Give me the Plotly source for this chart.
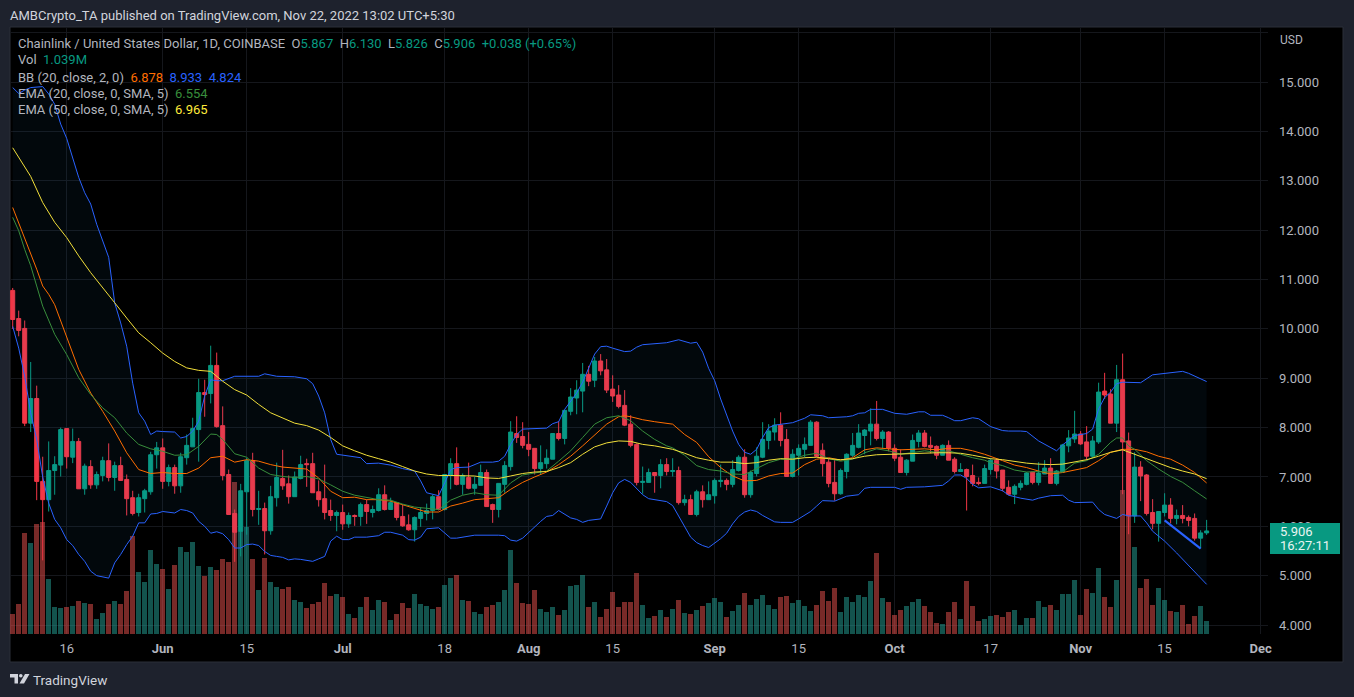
import pandas as pd
import plotly.graph_objects as go

W, H = 1354, 697
LEFT, RIGHT, TOP, BOTTOM = 10, 1268, 28, 634

dates = pd.date_range("2022-05-07", periods=200, freq="D")

opens = [
    10.78, 10.21, 10.01, 8.09, 8.59, 6.91, 6.54, 7.13, 7.24, 7.98,
    7.40, 7.72, 6.76, 7.21, 6.84, 7.03, 7.33, 6.99, 7.23, 6.95,
    6.58, 6.28, 6.56, 6.70, 7.45, 7.59, 6.91, 7.19, 6.82, 7.39,
    7.61, 7.96, 8.71, 8.69, 9.26, 8.04, 7.05, 6.26, 5.90, 6.70,
    7.33, 6.34, 6.36, 5.91, 6.58, 6.97, 6.86, 6.60, 6.97, 7.27,
    7.27, 6.70, 6.56, 6.32, 6.22, 6.28, 6.05, 6.22, 6.20, 6.44,
    6.28, 6.32, 6.64, 6.34, 6.48, 6.20, 6.03, 5.93, 6.16, 6.26,
    6.32, 6.60, 6.34, 7.03, 7.27, 6.85, 6.99, 6.77, 6.83, 7.09,
    6.44, 6.34, 6.85, 7.21, 7.88, 7.82, 7.66, 7.58, 7.17, 7.27,
    7.36, 7.88, 7.78, 8.33, 8.60, 8.74, 9.08, 8.96, 9.35, 9.17,
    8.78, 8.66, 8.45, 8.07, 7.66, 6.89, 6.89, 7.09, 7.03, 7.25,
    7.11, 7.13, 6.48, 6.54, 6.24, 6.70, 6.54, 6.62, 6.91, 6.93,
    6.85, 7.13, 7.40, 6.64, 7.07, 7.40, 7.74, 7.91, 8.05, 7.76,
    7.01, 7.44, 7.56, 7.64, 8.11, 7.54, 7.30, 6.89, 6.66, 7.11,
    7.44, 7.60, 7.84, 7.93, 8.07, 7.78, 7.91, 7.58, 7.40, 7.09,
    7.32, 7.72, 7.89, 7.64, 7.62, 7.44, 7.64, 7.36, 7.11, 7.15,
    7.03, 6.89, 6.87, 7.15, 7.34, 7.14, 6.79, 6.65, 6.79, 6.85,
    7.10, 6.89, 7.06, 7.18, 6.87, 7.10, 7.63, 7.77, 7.87, 7.71,
    7.42, 7.71, 8.74, 8.68, 8.09, 8.97, 7.73, 6.21, 7.20, 7.04,
    6.28, 6.06, 6.28, 6.43, 6.16, 6.22, 6.18, 6.16, 5.76, 5.867,
]
closes = [
    10.19, 9.97, 8.09, 8.59, 6.91, 6.54, 7.13, 7.25, 7.96, 7.41,
    7.72, 6.76, 7.22, 6.84, 7.05, 7.33, 6.99, 7.23, 6.93, 6.56,
    6.26, 6.58, 6.72, 7.45, 7.59, 6.91, 7.19, 6.82, 7.41, 7.64,
    7.98, 8.71, 8.67, 9.26, 8.02, 7.03, 6.24, 5.88, 6.72, 7.33,
    6.34, 6.36, 5.91, 6.60, 6.99, 6.82, 6.60, 7.00, 7.25, 7.25,
    6.68, 6.54, 6.28, 6.22, 6.28, 6.05, 6.22, 6.20, 6.44, 6.30,
    6.34, 6.64, 6.34, 6.48, 6.18, 6.01, 5.93, 6.18, 6.28, 6.32,
    6.60, 6.34, 7.05, 7.27, 6.85, 7.03, 6.77, 6.85, 7.09, 6.40,
    6.34, 6.87, 7.23, 7.91, 7.80, 7.64, 7.56, 7.17, 7.29, 7.38,
    7.88, 7.78, 8.35, 8.62, 8.76, 9.08, 8.94, 9.35, 9.15, 8.76,
    8.64, 8.43, 8.05, 7.64, 6.89, 6.91, 7.09, 7.03, 7.25, 7.11,
    7.13, 6.48, 6.54, 6.24, 6.70, 6.54, 6.64, 6.93, 6.93, 6.85,
    7.15, 7.40, 6.64, 7.09, 7.42, 7.76, 7.93, 8.05, 7.74, 7.01,
    7.46, 7.58, 7.66, 8.11, 7.42, 7.27, 6.87, 6.66, 7.13, 7.46,
    7.64, 7.89, 7.95, 8.07, 7.78, 7.91, 7.58, 7.38, 7.09, 7.34,
    7.74, 7.89, 7.62, 7.60, 7.44, 7.64, 7.34, 7.11, 7.15, 7.01,
    6.87, 6.87, 7.17, 7.34, 7.12, 6.77, 6.65, 6.81, 6.87, 7.08,
    6.89, 7.08, 7.18, 6.87, 7.12, 7.65, 7.79, 7.87, 7.67, 7.42,
    7.73, 8.72, 8.66, 8.09, 8.97, 7.71, 6.21, 7.20, 7.02, 6.26,
    6.06, 6.30, 6.43, 6.16, 6.22, 6.16, 6.12, 5.76, 5.867, 5.906,
]
highs = [
    10.83, 10.37, 10.17, 9.33, 8.85, 7.41, 7.72, 7.42, 8.00, 7.98,
    7.98, 7.79, 7.27, 7.34, 7.11, 7.41, 7.68, 7.31, 7.41, 7.05,
    6.72, 6.66, 6.76, 7.51, 7.71, 7.78, 7.25, 7.25, 7.49, 7.86,
    8.20, 8.99, 8.97, 9.66, 9.52, 8.43, 7.15, 6.34, 6.86, 7.39,
    7.49, 6.72, 6.48, 6.82, 7.29, 7.55, 7.03, 7.11, 7.43, 7.37,
    7.49, 6.93, 7.25, 6.54, 6.32, 6.44, 6.28, 6.24, 6.48, 6.54,
    6.42, 6.77, 6.83, 6.58, 6.48, 6.44, 6.24, 6.20, 6.38, 6.46,
    6.64, 6.73, 7.05, 7.38, 7.60, 7.07, 7.29, 7.01, 7.25, 7.15,
    6.46, 6.87, 7.32, 8.13, 8.23, 8.11, 7.91, 7.58, 7.64, 7.56,
    7.88, 8.13, 8.35, 8.80, 8.96, 9.31, 9.25, 9.43, 9.49, 9.39,
    9.06, 8.86, 8.76, 8.25, 7.68, 7.21, 7.17, 7.09, 7.36, 7.38,
    7.38, 7.21, 6.64, 6.64, 6.74, 6.83, 6.91, 6.97, 7.25, 6.97,
    7.34, 7.44, 7.56, 7.13, 7.60, 8.11, 8.07, 8.19, 8.31, 7.97,
    7.56, 7.66, 7.80, 8.15, 8.13, 7.68, 7.38, 7.34, 7.17, 7.48,
    7.89, 8.07, 7.97, 8.39, 8.54, 7.95, 7.93, 7.66, 7.56, 7.36,
    7.86, 7.95, 7.95, 7.82, 7.64, 7.66, 7.74, 7.40, 7.28, 7.17,
    7.25, 6.99, 7.25, 7.38, 7.38, 7.14, 6.93, 6.85, 6.93, 7.10,
    7.10, 7.30, 7.34, 7.38, 7.14, 7.67, 7.95, 8.34, 7.93, 8.03,
    7.83, 8.91, 9.11, 8.78, 9.27, 9.50, 7.90, 7.50, 7.32, 7.06,
    6.55, 6.30, 6.67, 6.57, 6.34, 6.43, 6.22, 6.26, 5.92, 6.130,
]
lows = [
    10.00, 9.85, 8.03, 7.91, 6.53, 5.31, 6.30, 6.64, 7.01, 7.17,
    7.28, 6.76, 6.64, 6.76, 6.76, 6.91, 6.91, 6.72, 6.93, 6.22,
    6.22, 6.20, 6.28, 6.64, 7.17, 6.76, 6.81, 6.66, 6.68, 7.25,
    7.61, 7.31, 8.22, 8.49, 8.00, 6.93, 6.24, 5.28, 5.39, 5.83,
    6.20, 6.03, 5.43, 5.83, 6.40, 6.74, 6.46, 6.60, 6.95, 6.80,
    6.68, 6.40, 6.14, 6.11, 5.90, 5.93, 5.97, 6.01, 6.01, 6.05,
    6.18, 6.30, 6.32, 6.34, 6.12, 5.99, 5.91, 5.69, 5.99, 6.12,
    6.14, 6.32, 6.32, 6.75, 6.83, 6.64, 6.75, 6.64, 6.83, 6.40,
    6.07, 6.18, 6.68, 7.13, 7.69, 7.58, 7.42, 7.05, 7.05, 7.17,
    7.36, 7.74, 7.66, 8.25, 8.27, 8.31, 8.84, 8.82, 9.06, 8.70,
    8.52, 8.39, 8.03, 7.60, 6.83, 6.66, 6.89, 6.68, 6.77, 7.03,
    7.01, 6.44, 6.42, 6.24, 6.20, 6.38, 6.54, 6.46, 6.79, 6.73,
    6.79, 7.11, 6.58, 6.58, 7.01, 7.38, 7.56, 7.74, 7.62, 7.01,
    6.99, 7.03, 7.40, 7.64, 7.40, 7.01, 6.79, 6.52, 6.64, 6.97,
    7.40, 7.58, 7.46, 7.64, 7.74, 7.58, 7.52, 7.32, 7.09, 7.03,
    7.32, 7.60, 7.60, 7.48, 7.36, 7.44, 7.34, 7.07, 7.11, 6.32,
    6.81, 6.83, 6.87, 7.05, 6.97, 6.71, 6.63, 6.45, 6.73, 6.83,
    6.85, 6.83, 7.06, 6.87, 6.83, 7.10, 7.50, 7.69, 7.65, 7.34,
    7.38, 7.67, 8.58, 8.09, 7.91, 6.65, 5.84, 6.07, 6.51, 6.22,
    5.94, 5.69, 6.20, 6.06, 6.04, 6.06, 6.00, 5.71, 5.55, 5.826,
]
# volume in millions
volumes = [
    1.64, 2.46, 8.28, 7.46, 9.02, 9.18, 4.51, 2.21, 2.13, 2.21,
    2.30, 2.70, 2.54, 2.46, 1.23, 1.72, 2.46, 2.70, 2.46, 3.52,
    8.03, 5.08, 4.26, 6.89, 5.74, 5.33, 3.69, 5.66, 7.13, 6.72,
    7.54, 5.57, 4.75, 5.49, 5.25, 6.15, 5.90, 12.46, 8.47, 8.80,
    6.15, 3.61, 6.23, 4.26, 3.85, 3.69, 3.85, 2.79, 2.62, 2.13,
    2.46, 2.62, 4.18, 3.11, 3.28, 3.03, 1.64, 1.31, 2.21, 3.03,
    1.97, 2.79, 2.62, 1.15, 1.64, 2.54, 2.13, 3.28, 2.46, 2.30,
    2.05, 2.21, 4.02, 4.59, 4.84, 2.79, 2.70, 1.80, 1.64, 2.21,
    2.38, 2.62, 3.61, 6.89, 4.18, 2.54, 2.46, 3.61, 2.05, 1.80,
    2.21, 1.56, 1.97, 3.93, 4.02, 4.84, 2.21, 2.62, 1.39, 2.05,
    3.44, 2.21, 2.62, 2.62, 5.00, 2.38, 1.31, 1.48, 1.97, 1.39,
    2.05, 2.79, 1.72, 1.64, 1.97, 2.30, 2.54, 2.95, 2.62, 1.39,
    1.89, 2.38, 3.36, 2.38, 2.87, 3.20, 2.38, 2.05, 3.03, 3.11,
    2.54, 2.79, 2.30, 1.89, 2.38, 3.52, 2.70, 3.77, 1.80, 3.03,
    2.62, 3.20, 3.03, 4.34, 6.64, 2.95, 2.62, 1.56, 1.97, 2.30,
    2.62, 2.87, 2.30, 1.80, 0.90, 0.82, 1.80, 2.62, 1.23, 4.34,
    2.30, 1.07, 1.23, 1.48, 1.56, 1.39, 1.80, 1.97, 0.74, 1.31,
    1.31, 2.70, 2.21, 2.38, 1.97, 3.28, 3.28, 4.43, 1.56, 3.69,
    3.36, 5.41, 3.03, 2.21, 4.43, 11.80, 10.16, 7.13, 3.77, 4.51,
    2.38, 3.77, 2.79, 1.89, 1.80, 2.38, 0.82, 1.48, 2.30, 1.039,
]

# indicator readings, bar number and price
bb_upper_bar = [
    0, 1, 2, 3, 5, 6, 7, 8, 9, 10, 11, 12, 13, 14, 15, 16, 17, 18, 19, 20,
    21, 22, 23, 24, 25, 26, 27, 28, 29, 30, 31, 32, 33, 34, 35, 37, 41, 42, 44, 47,
    49, 50, 51, 52, 53, 54, 55, 58, 59, 61, 63, 65, 67, 68, 69, 71, 72, 73, 74, 76,
    78, 80, 81, 82, 83, 84, 85, 87, 89, 90, 91, 92, 94, 95, 96, 97, 98, 99, 100, 102,
    103, 104, 105, 107, 109, 111, 113, 114, 115, 116, 117, 118, 119, 120, 121, 122, 123, 124, 125, 126,
    127, 128, 130, 132, 133, 135, 136, 139, 140, 141, 142, 143, 145, 147, 149, 151, 152, 153, 155, 156,
    157, 158, 160, 161, 163, 165, 166, 168, 169, 171, 173, 174, 175, 176, 177, 179, 180, 181, 182, 183,
    184, 185, 187, 188, 190, 192, 195, 196, 199,
]
bb_upper = [
    14.89, 14.77, 14.84, 14.89, 14.91, 14.76, 14.55, 14.15, 13.86, 13.44, 13.07, 12.76, 12.53, 12.12, 11.78, 11.45, 10.53, 10.12, 9.65, 8.90,
    8.30, 8.13, 7.86, 7.93, 7.92, 7.91, 7.91, 7.79, 7.82, 7.93, 8.13, 8.64, 8.97, 8.95, 8.95, 9.04, 9.04, 9.09, 9.04, 9.03,
    8.99, 8.89, 8.64, 8.30, 7.76, 7.46, 7.44, 7.39, 7.27, 7.28, 7.24, 7.17, 7.12, 6.92, 6.68, 6.62, 6.88, 7.15, 7.19, 7.20,
    7.30, 7.30, 7.32, 7.42, 7.66, 7.86, 7.97, 7.98, 7.99, 8.08, 8.12, 8.37, 8.70, 8.92, 9.22, 9.49, 9.64, 9.65, 9.61, 9.54,
    9.55, 9.63, 9.68, 9.70, 9.72, 9.78, 9.71, 9.73, 9.53, 9.20, 8.95, 8.58, 8.24, 7.93, 7.66, 7.50, 7.46, 7.56, 7.80, 8.00,
    8.05, 8.07, 8.10, 8.19, 8.26, 8.24, 8.20, 8.22, 8.24, 8.29, 8.30, 8.37, 8.37, 8.29, 8.27, 8.32, 8.32, 8.25, 8.25, 8.20,
    8.14, 8.14, 8.20, 8.18, 8.02, 7.94, 7.93, 7.93, 7.92, 7.73, 7.60, 7.53, 7.65, 7.75, 7.84, 7.88, 7.97, 8.38, 8.61, 8.72,
    8.89, 8.92, 8.92, 8.91, 9.07, 9.10, 9.14, 9.10, 8.933,
]
bb_lower_bar = [
    0, 1, 2, 3, 4, 5, 6, 7, 8, 9, 10, 11, 12, 13, 14, 15, 16, 17, 18, 19,
    20, 21, 22, 23, 24, 25, 27, 28, 29, 30, 31, 32, 33, 34, 35, 36, 37, 38, 39, 40,
    41, 42, 43, 44, 45, 46, 47, 48, 50, 51, 52, 53, 54, 55, 56, 57, 59, 61, 62, 63,
    65, 66, 67, 68, 69, 71, 73, 74, 77, 81, 82, 83, 84, 85, 86, 88, 89, 90, 91, 92,
    93, 94, 95, 96, 98, 99, 100, 101, 102, 103, 104, 105, 106, 108, 109, 110, 111, 112, 113, 114,
    115, 116, 117, 118, 119, 120, 121, 122, 123, 124, 125, 126, 127, 128, 130, 131, 133, 134, 135, 137,
    138, 139, 141, 142, 143, 147, 148, 149, 152, 155, 156, 157, 158, 159, 160, 161, 163, 165, 166, 168,
    170, 171, 173, 175, 176, 177, 180, 181, 182, 184, 185, 186, 188, 189, 190, 192, 194, 195, 197, 198, 199,
]
bb_lower = [
    10.05, 9.61, 9.04, 8.30, 7.76, 7.00, 6.47, 6.14, 5.97, 5.73, 5.61, 5.43, 5.29, 5.09, 5.00, 4.97, 4.95, 5.26, 5.43, 5.63,
    5.80, 6.07, 6.07, 6.25, 6.26, 6.30, 6.27, 6.34, 6.32, 6.27, 6.10, 6.00, 5.86, 5.89, 5.85, 5.73, 5.56, 5.56, 5.63, 5.64,
    5.61, 5.49, 5.41, 5.39, 5.37, 5.32, 5.34, 5.33, 5.29, 5.34, 5.39, 5.70, 5.80, 5.73, 5.73, 5.78, 5.78, 5.81, 5.88, 5.88,
    5.82, 5.73, 5.72, 5.78, 5.95, 5.97, 5.76, 5.76, 5.82, 5.82, 5.81, 5.72, 5.70, 5.76, 5.88, 6.10, 6.20, 6.22, 6.32, 6.25,
    6.17, 6.14, 6.08, 6.12, 6.15, 6.41, 6.68, 6.88, 6.95, 6.89, 6.76, 6.64, 6.56, 6.53, 6.50, 6.42, 6.20, 5.97, 5.78, 5.67,
    5.61, 5.57, 5.66, 5.75, 5.86, 6.05, 6.20, 6.29, 6.33, 6.30, 6.22, 6.15, 6.09, 6.08, 6.08, 6.15, 6.30, 6.41, 6.52, 6.51,
    6.56, 6.61, 6.64, 6.77, 6.79, 6.79, 6.75, 6.79, 6.80, 6.83, 6.92, 7.04, 7.04, 6.97, 6.85, 6.78, 6.80, 6.72, 6.63, 6.57,
    6.53, 6.57, 6.62, 6.63, 6.53, 6.48, 6.49, 6.34, 6.24, 6.16, 6.24, 6.21, 6.21, 6.07, 5.90, 5.70, 5.46, 5.33, 5.09, 4.94, 4.824,
]
bb_basis_bar = [
    0, 1, 2, 3, 4, 5, 6, 7, 9, 11, 13, 15, 17, 19, 21, 23, 25, 27, 29, 31,
    33, 35, 37, 39, 41, 43, 45, 47, 49, 51, 53, 55, 57, 59, 61, 63, 65, 67, 69, 71,
    73, 75, 77, 79, 81, 83, 85, 87, 89, 91, 93, 95, 97, 99, 101, 102, 103, 105, 107, 109,
    110, 112, 114, 116, 118, 120, 122, 124, 126, 128, 130, 132, 134, 136, 138, 140, 142, 144, 146, 148,
    150, 152, 154, 156, 158, 160, 162, 163, 165, 167, 169, 171, 173, 175, 177, 179, 181, 183, 185, 187,
    189, 191, 193, 195, 197, 199,
]
bb_basis = [
    12.46, 12.15, 11.82, 11.55, 11.21, 10.87, 10.70, 10.49, 9.85, 9.18, 8.70, 8.33, 7.93, 7.49, 7.15, 7.07, 7.09, 7.07, 7.07, 7.18,
    7.39, 7.42, 7.30, 7.35, 7.32, 7.25, 7.20, 7.18, 7.16, 6.98, 6.71, 6.58, 6.59, 6.54, 6.54, 6.51, 6.44, 6.37, 6.29, 6.29,
    6.41, 6.47, 6.54, 6.56, 6.58, 6.75, 6.89, 7.00, 7.10, 7.25, 7.42, 7.63, 7.86, 8.07, 8.22, 8.24, 8.22, 8.16, 8.12, 8.09,
    8.07, 7.86, 7.70, 7.41, 7.19, 7.02, 6.92, 6.93, 7.02, 7.07, 7.08, 7.25, 7.36, 7.39, 7.34, 7.39, 7.55, 7.59, 7.57, 7.55,
    7.56, 7.57, 7.55, 7.58, 7.58, 7.53, 7.46, 7.42, 7.33, 7.24, 7.19, 7.12, 7.06, 7.09, 7.14, 7.19, 7.33, 7.50, 7.56, 7.56,
    7.51, 7.42, 7.36, 7.24, 7.09, 6.878,
]
ema20_bar = [
    0, 1, 2, 3, 4, 5, 7, 9, 11, 13, 15, 17, 19, 21, 23, 25, 27, 29, 31, 33,
    34, 35, 37, 39, 41, 43, 45, 47, 49, 51, 53, 55, 57, 59, 61, 63, 65, 67, 69, 71,
    73, 75, 77, 79, 81, 83, 85, 87, 89, 91, 93, 95, 97, 99, 101, 103, 105, 107, 109, 110,
    112, 114, 116, 118, 120, 122, 124, 126, 128, 130, 132, 134, 136, 138, 140, 142, 144, 146, 148, 150,
    152, 154, 156, 158, 160, 162, 163, 165, 167, 169, 171, 173, 175, 177, 179, 181, 183, 184, 185, 186,
    187, 189, 191, 193, 195, 197, 199,
]
ema20 = [
    12.26, 11.99, 11.61, 11.28, 10.87, 10.46, 9.89, 9.48, 9.01, 8.67, 8.40, 8.20, 7.89, 7.66, 7.57, 7.52, 7.44, 7.45, 7.62, 7.87,
    7.86, 7.76, 7.47, 7.40, 7.18, 7.05, 7.01, 6.99, 7.01, 6.96, 6.84, 6.71, 6.63, 6.58, 6.54, 6.53, 6.45, 6.39, 6.37, 6.34,
    6.53, 6.63, 6.68, 6.64, 6.63, 6.88, 7.04, 7.08, 7.12, 7.32, 7.53, 7.80, 8.07, 8.20, 8.24, 8.14, 7.93, 7.76, 7.63, 7.59,
    7.44, 7.23, 7.15, 7.12, 7.06, 7.05, 7.17, 7.29, 7.36, 7.36, 7.44, 7.48, 7.37, 7.32, 7.36, 7.49, 7.57, 7.53, 7.46, 7.49,
    7.53, 7.50, 7.53, 7.46, 7.39, 7.34, 7.29, 7.23, 7.14, 7.10, 7.11, 7.10, 7.10, 7.28, 7.33, 7.46, 7.70, 7.79, 7.79, 7.63,
    7.56, 7.33, 7.16, 7.01, 6.89, 6.72, 6.554,
]
ema50_bar = [
    0, 1, 3, 5, 7, 9, 11, 13, 15, 16, 17, 19, 21, 23, 25, 27, 29, 31, 33, 35,
    37, 39, 41, 43, 45, 47, 49, 51, 53, 55, 57, 59, 61, 63, 65, 67, 69, 71, 73, 75,
    77, 79, 81, 83, 85, 87, 89, 91, 93, 95, 97, 99, 101, 103, 105, 107, 109, 110, 112, 114,
    116, 118, 120, 122, 124, 126, 128, 130, 132, 134, 136, 138, 140, 142, 144, 146, 148, 150, 152, 154,
    156, 158, 160, 162, 163, 165, 167, 169, 171, 173, 175, 177, 179, 181, 183, 185, 187, 189, 191, 193,
    195, 197, 199,
]
ema50 = [
    13.67, 13.47, 13.09, 12.56, 12.16, 11.85, 11.48, 11.14, 10.84, 10.70, 10.53, 10.22, 9.92, 9.72, 9.51, 9.34, 9.21, 9.16, 9.14, 8.94,
    8.77, 8.66, 8.47, 8.30, 8.20, 8.09, 8.04, 7.95, 7.80, 7.63, 7.53, 7.44, 7.37, 7.30, 7.21, 7.12, 7.06, 7.03, 7.03, 7.02,
    7.02, 6.98, 6.97, 7.02, 7.07, 7.10, 7.11, 7.19, 7.29, 7.46, 7.61, 7.69, 7.73, 7.72, 7.66, 7.63, 7.59, 7.56, 7.48, 7.39,
    7.34, 7.30, 7.30, 7.27, 7.29, 7.34, 7.37, 7.36, 7.39, 7.40, 7.37, 7.35, 7.37, 7.42, 7.45, 7.46, 7.46, 7.47, 7.48, 7.49,
    7.49, 7.48, 7.44, 7.40, 7.37, 7.35, 7.31, 7.28, 7.26, 7.25, 7.26, 7.31, 7.35, 7.42, 7.50, 7.55, 7.46, 7.36, 7.28, 7.19,
    7.12, 7.06, 6.965,
]
# hand drawn trend line
trend_bar = [192, 198]
trend_price = [6.12, 5.55]

price_ticks = [4, 5, 6, 7, 8, 9, 10, 11, 12, 13, 14, 15, 16]
price_labels = ["4.000", "5.000", "6.000", "7.000", "8.000", "9.000", "10.000", "11.000",
                "12.000", "13.000", "14.000", "15.000", ""]
date_ticks = ["2022-05-16", "2022-06-01", "2022-06-15", "2022-07-01", "2022-07-18", "2022-08-01", "2022-08-15",
              "2022-09-01", "2022-09-15", "2022-10-01", "2022-10-17", "2022-11-01", "2022-11-15", "2022-12-01"]
date_labels = ["16", "<b>Jun</b>", "15", "<b>Jul</b>", "18", "<b>Aug</b>", "15",
               "<b>Sep</b>", "15", "<b>Oct</b>", "17", "<b>Nov</b>", "15", "<b>Dec</b>"]

UP, DOWN = "#089981", "#F23645"
VOL_UP, VOL_DOWN = "rgba(38,166,154,0.5)", "rgba(239,83,80,0.5)"
BLUE, ORANGE, GREEN, YELLOW = "#2962FF", "#FF6D00", "#388E3C", "#F2DF3A"
GRID = "#15171C"
TEXT = "#B2B5BE"
FONT = "Roboto"


def px(x):
    return (x - LEFT) / (RIGHT - LEFT)


def py(y):
    return (BOTTOM - y) / (BOTTOM - TOP)


def at(idx):
    return [dates[i] for i in idx]


fig = go.Figure()

fig.add_trace(go.Bar(x=dates, y=volumes, width=0.83 * 86400000,
                     marker=dict(color=[VOL_UP if c >= o else VOL_DOWN for o, c in zip(opens, closes)], line_width=0),
                     yaxis="y", hoverinfo="skip"))

fig.add_trace(go.Scatter(x=at(bb_upper_bar), y=bb_upper, mode="lines", yaxis="y2",
                         line=dict(color=BLUE, width=1)))
fig.add_trace(go.Scatter(x=at(bb_lower_bar), y=bb_lower, mode="lines", yaxis="y2", fill="tonexty",
                         fillcolor="rgba(33,150,243,0.05)", line=dict(color=BLUE, width=1)))
fig.add_trace(go.Scatter(x=at(bb_basis_bar), y=bb_basis, mode="lines", yaxis="y2",
                         line=dict(color=ORANGE, width=1)))
fig.add_trace(go.Scatter(x=at(ema20_bar), y=ema20, mode="lines", yaxis="y2",
                         line=dict(color=GREEN, width=1)))
fig.add_trace(go.Scatter(x=at(ema50_bar), y=ema50, mode="lines", yaxis="y2",
                         line=dict(color=YELLOW, width=1)))

fig.add_trace(go.Candlestick(x=dates, open=opens, high=highs, low=lows, close=closes, yaxis="y2",
                             increasing=dict(line=dict(color=UP, width=1), fillcolor=UP),
                             decreasing=dict(line=dict(color=DOWN, width=1), fillcolor=DOWN),
                             whiskerwidth=0))
fig.add_trace(go.Scatter(x=at(trend_bar), y=trend_price, mode="lines", yaxis="y2",
                         line=dict(color=BLUE, width=2.2)))

legend_rows = [
    (43, "Chainlink / United States Dollar, 1D, COINBASE  O<span style='color:#089981'>5.867</span>  "
         "H<span style='color:#089981'>6.130</span>  L<span style='color:#089981'>5.826</span>  "
         "C<span style='color:#089981'>5.906</span>  <span style='color:#089981'>+0.038 (+0.65%)</span>"),
    (60, "Vol  <span style='color:#089981'>1.039M</span>"),
    (77, "BB (20, close, 2, 0)  <span style='color:#FF6D00'>6.878</span>  <span style='color:#2962FF'>8.933</span>  "
         "<span style='color:#2962FF'>4.824</span>"),
    (94, "EMA (20, close, 0, SMA, 5)  <span style='color:#388E3C'>6.554</span>"),
    (110, "EMA (50, close, 0, SMA, 5)  <span style='color:#FFEB3B'>6.965</span>"),
]

annotations = [
    dict(x=px(7.5), y=py(16), text="AMBCrypto_TA published on TradingView.com, Nov 22, 2022 13:02 UTC+5:30",
         font=dict(size=13, color="#D1D4DC")),
    dict(x=px(31), y=py(680), text="TradingView", font=dict(size=13.5, color="#D1D4DC")),
    dict(x=px(1278), y=py(40), text="USD", font=dict(size=12, color=TEXT)),
    dict(x=px(1278), y=py(531), text="5.906", font=dict(size=13, color="#E8F5F2")),
    dict(x=px(1278), y=py(545), text="16:27:11", font=dict(size=13, color="#E8F5F2")),
]
for row_y, row in legend_rows:
    annotations.append(dict(x=px(16), y=py(row_y), text=row, font=dict(size=13, color=TEXT)))
for a in annotations:
    a.update(xref="paper", yref="paper", xanchor="left", yanchor="middle", showarrow=False, align="left")
    a["font"]["family"] = FONT

shapes = [
    # black chart frame
    dict(type="rect", xref="paper", yref="paper", layer="below", x0=px(10), x1=px(1343), y0=py(662), y1=py(27),
         fillcolor="#000000", line=dict(color="#2A2E39", width=1)),
    # last price tag
    dict(type="rect", xref="paper", yref="paper", layer="above", x0=px(1270), x1=px(1340), y0=py(554), y1=py(523),
         fillcolor=UP, line_width=0),
    # TradingView logo
    dict(type="path", xref="paper", yref="paper", fillcolor="#D1D4DC", line_width=0,
         path=f"M {px(10)} {py(674)} L {px(18)} {py(674)} L {px(18)} {py(683.5)} L {px(14.5)} {py(683.5)} "
              f"L {px(14.5)} {py(677.5)} L {px(10)} {py(677.5)} Z"),
    dict(type="circle", xref="paper", yref="paper", fillcolor="#D1D4DC", line_width=0,
         x0=px(19), x1=px(22.6), y0=py(677.6), y1=py(674)),
    dict(type="path", xref="paper", yref="paper", fillcolor="#D1D4DC", line_width=0,
         path=f"M {px(25)} {py(674)} L {px(29.5)} {py(674)} L {px(24)} {py(683.5)} L {px(19.5)} {py(683.5)} Z"),
]

fig.update_layout(
    width=W, height=H,
    margin=dict(l=LEFT, r=W - RIGHT, t=TOP, b=H - BOTTOM, autoexpand=False),
    paper_bgcolor="#1E222D", plot_bgcolor="#000000",
    showlegend=False, hovermode=False, boxgap=0.33, boxgroupgap=0, bargap=0,
    font=dict(family=FONT, size=13, color=TEXT),
    annotations=annotations, shapes=shapes,
    xaxis=dict(type="date", range=["2022-05-06 13:12", "2022-12-02 05:31"], tickvals=date_ticks, ticktext=date_labels,
               showgrid=True, gridcolor=GRID, gridwidth=1, zeroline=False, showline=False, ticks="",
               ticklabelstandoff=5, rangeslider=dict(visible=False), tickfont=dict(size=13, color=TEXT)),
    yaxis=dict(range=[0, 49.67], visible=False, showgrid=False, zeroline=False),
    yaxis2=dict(range=[3.818, 16.097], overlaying="y", side="right", tickvals=price_ticks, ticktext=price_labels,
                showgrid=True, gridcolor=GRID, gridwidth=1, zeroline=False, showline=False, ticks="",
                ticklabelstandoff=10, tickfont=dict(size=13, color=TEXT)),
)

fig.write_html("out.html", config=dict(displayModeBar=False),
               post_script="document.body.style.margin='0';document.body.style.background='#1E222D';")
